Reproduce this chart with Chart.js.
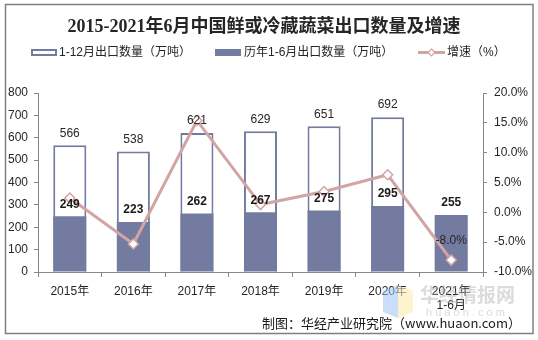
<!DOCTYPE html>
<html><head><meta charset="utf-8">
<script src="https://cdn.jsdelivr.net/npm/chart.js@4/dist/chart.umd.min.js"></script>
<style>html,body{margin:0;padding:0;background:#fff;}#wrap{width:538px;height:340px;}</style>
</head><body><div id="wrap"><canvas id="c" width="538" height="340"></canvas></div>
<script>
const categories = ['2015年','2016年','2017年','2018年','2019年','2020年',['2021年','1-6月']];
const totalValues = [566,538,621,629,651,692,null];
const halfYearValues = [249,223,262,267,275,295,255];
const growthValues = [2.4,-5.3,15.4,1.3,3.5,6.3,-8.0];
const leftTicks = [0,800,100];
const rightTicks = [-10,20,5];
const titleText = '2015-2021年6月中国鲜或冷藏蔬菜出口数量及增速';
const legendTexts = ['1-12月出口数量（万吨）','历年1-6月出口数量（万吨）','增速（%）'];
const sourceText = '制图：华经产业研究院（www.huaon.com）';

const FONT = '"Liberation Sans", "Noto Sans CJK SC", sans-serif';
const BAR = '#737CA0';
const LINE = '#D3A4A4';

const deco = {
  id:'deco',
  afterDraw(chart){
    const ctx = chart.ctx;
    ctx.save();
    // frame
    ctx.strokeStyle = '#7f7f7f'; ctx.lineWidth = 1.5;
    ctx.strokeRect(5.5,4.5,527.5,329);
    // title
    ctx.fillStyle = '#262626';
    ctx.font = 'bold 18px "Liberation Serif", "Noto Sans CJK SC", serif';
    ctx.textAlign = 'center'; ctx.textBaseline = 'middle';
    ctx.fillText(titleText, 264, 27);
    // legend
    ctx.font = '12px ' + FONT; ctx.textAlign = 'left'; ctx.fillStyle = '#262626';
    ctx.strokeStyle = BAR; ctx.lineWidth = 2; ctx.fillStyle = '#fff';
    ctx.fillRect(32,50,24,5); ctx.strokeRect(32,50,24,5);
    ctx.fillStyle = '#262626'; ctx.fillText(legendTexts[0], 59, 53);
    ctx.fillStyle = BAR; ctx.fillRect(215,49,26,7);
    ctx.fillStyle = '#262626'; ctx.fillText(legendTexts[1], 244, 53);
    ctx.strokeStyle = LINE; ctx.lineWidth = 3;
    ctx.beginPath(); ctx.moveTo(418,52.5); ctx.lineTo(445,52.5); ctx.stroke();
    ctx.fillStyle = '#fff'; ctx.lineWidth = 1.2;
    ctx.beginPath(); ctx.moveTo(431.5,49); ctx.lineTo(435,52.5); ctx.lineTo(431.5,56); ctx.lineTo(428,52.5); ctx.closePath(); ctx.fill(); ctx.stroke();
    ctx.fillStyle = '#262626'; ctx.fillText(legendTexts[2], 447, 53);
    // data labels
    const m0 = chart.getDatasetMeta(0), m1 = chart.getDatasetMeta(1), m2 = chart.getDatasetMeta(2);
    ctx.textAlign = 'center'; ctx.textBaseline = 'middle';
    ctx.font = '12px ' + FONT; ctx.fillStyle = '#262626';
    m0.data.forEach((el,i)=>{ if(totalValues[i]!=null) ctx.fillText(String(totalValues[i]), el.x, el.y-12); });
    ctx.font = 'bold 12px ' + FONT; ctx.fillStyle = '#1a1a1a';
    m1.data.forEach((el,i)=>{ ctx.fillText(String(halfYearValues[i]), el.x, el.y-12); });
    ctx.font = '12px ' + FONT; ctx.fillStyle = '#262626';
    const last = m2.data[m2.data.length-1];
    ctx.fillText(growthValues[growthValues.length-1].toFixed(1)+'%', last.x, last.y-19);
    // watermark
    ctx.globalAlpha = 0.55;
    ctx.fillStyle = '#9cc3f5';
    ctx.beginPath(); ctx.moveTo(383,291); ctx.lineTo(398,285); ctx.lineTo(398,318); ctx.lineTo(383,312); ctx.closePath(); ctx.fill();
    ctx.fillStyle = '#fbe9a6';
    ctx.beginPath(); ctx.moveTo(398,285); ctx.lineTo(413,291); ctx.lineTo(413,312); ctx.lineTo(398,318); ctx.closePath(); ctx.fill();
    ctx.globalAlpha = 0.45;
    ctx.fillStyle = '#b0b0b0';
    ctx.font = 'bold 19px "Noto Sans CJK SC", sans-serif'; ctx.textAlign='left';
    ctx.fillText('华经情报网', 420, 295);
    ctx.font = '11px ' + FONT;
    ctx.fillText('h u a o n . c o m', 426, 313);
    ctx.globalAlpha = 1;
    // source
    ctx.fillStyle = '#1a1a1a'; ctx.font = '13px "Noto Sans CJK SC", "Liberation Sans", sans-serif';
    ctx.textAlign = 'right'; ctx.textBaseline = 'middle';
    ctx.fillText(sourceText, 521, 323);
    ctx.restore();
  }
};

new Chart(document.getElementById('c'), {
  data: {
    labels: categories,
    datasets: [
      { type:'bar', label:legendTexts[0], data: totalValues, backgroundColor:'#fff', borderColor:BAR, borderWidth:2,
        grouped:false, barPercentage:0.52, categoryPercentage:1, order:2, yAxisID:'y' },
      { type:'bar', label:legendTexts[1], data: halfYearValues, backgroundColor:BAR, borderWidth:0,
        grouped:false, barPercentage:0.52, categoryPercentage:1, order:1, yAxisID:'y' },
      { type:'line', label:legendTexts[2], data: growthValues, borderColor:LINE, borderWidth:3, tension:0,
        pointStyle:'rectRot', pointRadius:5, pointBackgroundColor:'#fff', pointBorderColor:LINE, pointBorderWidth:1.5,
        order:0, yAxisID:'y1' }
    ]
  },
  options: {
    responsive:false, animation:false,
    layout:{ padding:{ top:93, left:0, right:0, bottom:0 } },
    plugins:{ legend:{display:false}, title:{display:false}, tooltip:{enabled:false} },
    scales:{
      x:{ offset:true,
        grid:{ display:true, drawOnChartArea:false, offset:true, tickLength:5, color:'#888' },
        border:{ color:'#888', width:1 },
        ticks:{ color:'#262626', font:{ family:FONT, size:12 }, padding:7, maxRotation:0, autoSkip:false },
        afterFit(s){ s.height = 68; } },
      y:{ position:'left', min:leftTicks[0], max:leftTicks[1],
        grid:{ display:true, drawOnChartArea:false, tickLength:4, color:'#888' },
        border:{ color:'#888', width:1 },
        ticks:{ stepSize:leftTicks[2], color:'#262626', font:{ family:FONT, size:12 }, padding:6 },
        afterFit(s){ s.width = 38; } },
      y1:{ position:'right', min:rightTicks[0], max:rightTicks[1],
        grid:{ display:true, drawOnChartArea:false, tickLength:4, color:'#888' },
        border:{ color:'#888', width:1 },
        ticks:{ stepSize:rightTicks[2], color:'#262626', font:{ family:FONT, size:12 }, padding:7,
          callback:(v)=> v.toFixed(1)+'%' },
        afterFit(s){ s.width = 55; } }
    }
  },
  plugins:[deco]
});
</script>
</body></html>
